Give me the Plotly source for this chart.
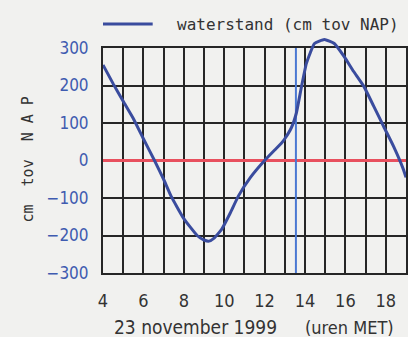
import plotly.graph_objects as go

# waterstand, 23 november 1999 (uren MET)
hours = [4.0, 4.5, 5.0, 5.5, 6.0, 6.55, 7.0, 7.37, 8.0, 8.66, 9.0, 9.25, 9.5,
         9.88, 10.3, 10.7, 11.3, 12.0, 12.5, 12.83, 13.0, 13.33, 13.57, 13.82,
         14.07, 14.47, 14.96, 15.45, 15.94, 16.4, 16.92, 17.4, 17.9, 18.39,
         18.88, 19.0]
level_cm = [255, 205, 158, 112, 58, 0, -50, -95, -155, -200, -212, -215, -207,
            -183, -140, -95, -45, 0, 28, 46, 58, 88, 126, 195,
            259, 312, 323, 312, 277, 238, 197, 145, 90, 37,
            -25, -45]

now_hour = 13.55
x_ticks = [4, 6, 8, 10, 12, 14, 16, 18]
y_ticks = [-300, -200, -100, 0, 100, 200, 300]

BG = "#f1f1ef"
GRID = "#262626"
CURVE = "#3a4c9e"
TEXT = "#333333"
TICKBLUE = "#3f5bb0"

# the grid box covers the lower part of the plot area, the curve gets the
# full height so the peak above 300 is not cut off
TOP_PX, BOT_PX = 20, 273
GRID_FRAC = (273 - 48) / (BOT_PX - TOP_PX)
y2_top = -300 + 600 / GRID_FRAC

fig = go.Figure()
fig.add_trace(go.Scatter(
    x=hours, y=level_cm, mode="lines", xaxis="x2", yaxis="y2",
    line=dict(color=CURVE, width=3, shape="spline", smoothing=0.4),
    showlegend=False, hoverinfo="skip"
))

# current time marker
fig.add_shape(type="line", xref="x", yref="y", x0=now_hour, x1=now_hour,
              y0=-300, y1=300, line=dict(color="#4a78d2", width=2), layer="between")

# legend drawn by hand
leg_y = (BOT_PX - 24) / (BOT_PX - TOP_PX)
fig.add_shape(type="line", xref="paper", yref="paper", x0=0.0, x1=0.164,
              y0=leg_y, y1=leg_y, line=dict(color=CURVE, width=3))
fig.add_annotation(xref="paper", yref="paper", x=0.236, y=leg_y,
                   xanchor="left", yanchor="middle",
                   text="waterstand (cm tov NAP)", showarrow=False,
                   font=dict(family="DejaVu Sans Mono", size=16, color=TEXT))

fig.add_annotation(xref="paper", yref="paper", x=-0.249,
                   y=(BOT_PX - 160) / (BOT_PX - TOP_PX),
                   xanchor="center", yanchor="middle", textangle=-90,
                   text="cm  tov  N A P", showarrow=False,
                   font=dict(family="DejaVu Sans Mono", size=15, color=TEXT))
xt_y = (BOT_PX - 327) / (BOT_PX - TOP_PX)
fig.add_annotation(xref="paper", yref="paper", x=0.03, y=xt_y,
                   xanchor="left", yanchor="middle",
                   text="23 november 1999", showarrow=False,
                   font=dict(family="DejaVu Sans Condensed", size=19, color=TEXT))
fig.add_annotation(xref="paper", yref="paper", x=0.659, y=xt_y,
                   xanchor="left", yanchor="middle",
                   text="(uren MET)", showarrow=False,
                   font=dict(family="DejaVu Sans Condensed", size=18, color=TEXT))

fig.update_layout(
    width=408, height=337,
    margin=dict(l=103, r=0, t=TOP_PX, b=337 - BOT_PX),
    paper_bgcolor=BG, plot_bgcolor="rgba(0,0,0,0)",
    showlegend=False,
    xaxis=dict(range=[4, 19], domain=[0, 1], tickvals=x_ticks,
               showgrid=True, gridcolor=GRID, gridwidth=1.5,
               minor=dict(dtick=1, showgrid=True, gridcolor=GRID, gridwidth=1.5),
               showline=True, linecolor=GRID, linewidth=2, mirror=True,
               zeroline=False, ticks="", ticklabelstandoff=10,
               tickfont=dict(family="DejaVu Sans Condensed", size=18, color=TEXT)),
    yaxis=dict(range=[-300, 300], domain=[0, GRID_FRAC], tickvals=y_ticks,
               showgrid=True, gridcolor=GRID, gridwidth=2,
               showline=True, linecolor=GRID, linewidth=2, mirror=True,
               zeroline=True, zerolinecolor="#e8505e", zerolinewidth=2.5,
               ticks="", ticklabelstandoff=9,
               tickfont=dict(family="DejaVu Sans Condensed", size=17, color=TICKBLUE)),
    xaxis2=dict(range=[4, 19], domain=[0, 1], anchor="y2", visible=False),
    yaxis2=dict(range=[-300, y2_top], domain=[0, 1], anchor="x2", visible=False),
)

fig.write_html("out.html", config={"displayModeBar": False},
               post_script="document.body.style.margin='0';"
                           "document.body.style.overflow='hidden';")
